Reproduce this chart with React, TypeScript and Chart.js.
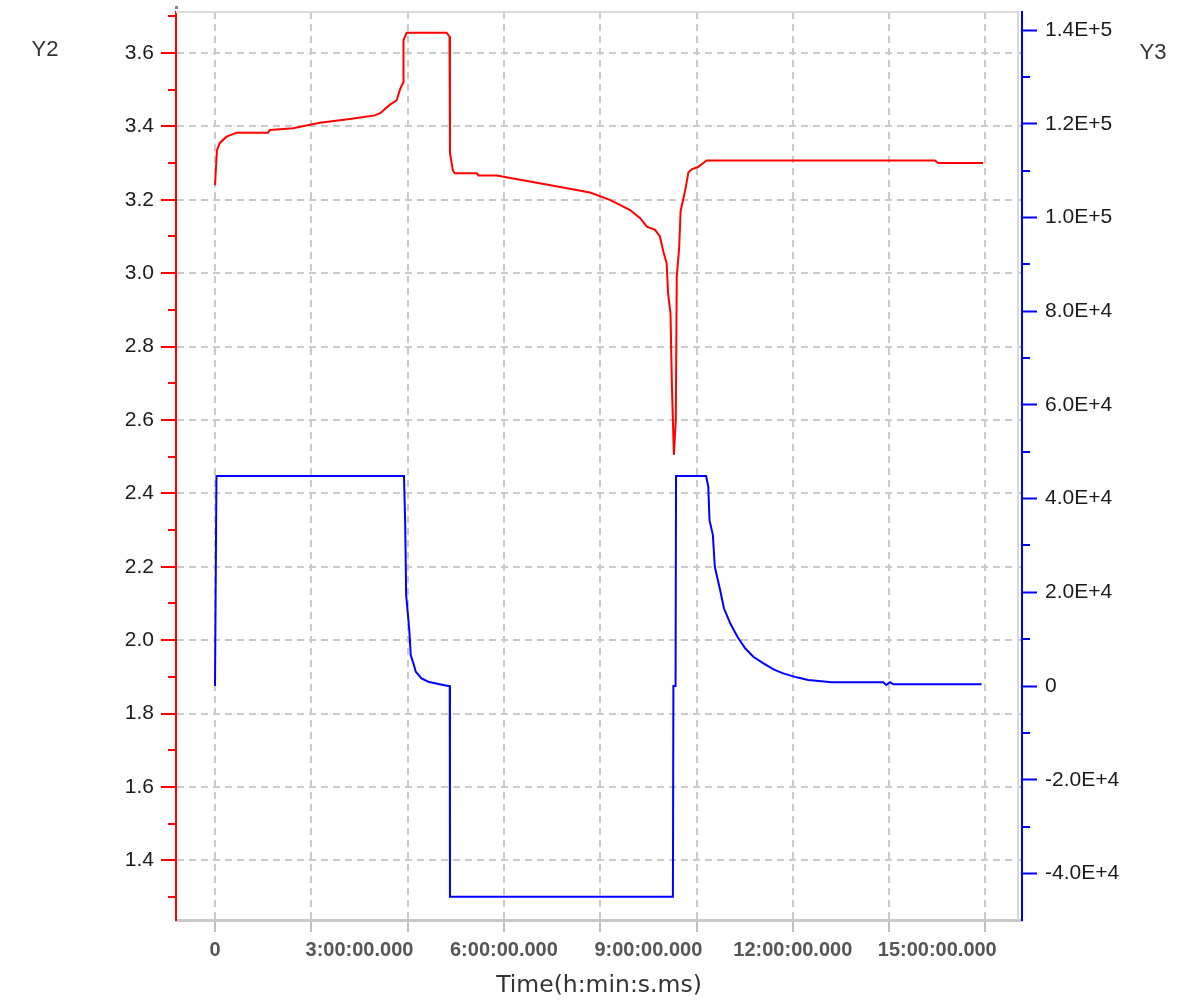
import React, { useEffect, useRef } from 'react';
import { Chart, registerables } from 'chart.js';

Chart.register(...registerables);

// ---- Data (hours, volts) ----
const redTimes = [
  0, 0.04, 0.1, 0.24, 0.45, 1.1, 1.14, 1.62, 2.18, 2.8, 3.32, 3.43, 3.64, 3.77, 3.84, 3.91, 3.915, 3.98,
  4.81, 4.87, 4.88, 4.94, 4.98, 5.44, 5.47, 5.85, 6.54, 7.17, 7.79, 8.2, 8.41, 8.62, 8.83, 8.97, 9.14,
  9.24, 9.31, 9.38, 9.41, 9.46, 9.49, 9.53, 9.57, 9.59, 9.64, 9.67, 9.73, 9.78, 9.83, 9.9, 10.04, 10.21,
  14.95, 15.02, 15.95,
];
const redValues = [
  3.24, 3.335, 3.355, 3.372, 3.383, 3.383, 3.39, 3.395, 3.41, 3.42, 3.43, 3.436, 3.46, 3.47, 3.5, 3.52, 3.635, 3.655,
  3.655, 3.645, 3.327, 3.28, 3.272, 3.272, 3.266, 3.266, 3.25, 3.235, 3.22, 3.2, 3.186, 3.172, 3.15, 3.127, 3.118,
  3.1, 3.06, 3.027, 2.945, 2.89, 2.69, 2.505, 2.6, 2.99, 3.07, 3.17, 3.205, 3.236, 3.274, 3.283, 3.29, 3.307,
  3.307, 3.3, 3.3,
];

// ---- Data (hours, Y3 units) ----
const blueTimes = [
  0, 0.03, 3.9, 3.925, 3.95, 3.97, 4.035, 4.065, 4.12, 4.17, 4.29, 4.43, 4.64, 4.845, 4.875, 4.88,
  9.51, 9.52, 9.565, 9.575, 10.2, 10.245, 10.27, 10.34, 10.38, 10.49, 10.57, 10.7, 10.85, 11.01, 11.18,
  11.39, 11.6, 11.8, 12.08, 12.32, 12.81, 13.88, 13.94, 14.02, 14.09, 15.92,
];
const blueValues = [
  0, 44800, 44800, 44800, 34700, 19400, 11950, 6600, 4840, 3050, 1640, 920, 430, 0, 0, -45000,
  -45000, 0, 0, 44800, 44800, 42500, 35400, 32200, 25460, 20500, 16580, 13380, 10520, 8045, 6250,
  4840, 3560, 2700, 1850, 1280, 790, 790, 213, 790, 360, 360,
];

// ---- Axes ----
const xRange = [-0.81, 16.76];
const xGridHours = [0, 2, 4, 6, 8, 10, 12, 14, 16];
const xLabelHours = [0, 3, 6, 9, 12, 15];
const xLabelTexts = ['0', '3:00:00.000', '6:00:00.000', '9:00:00.000', '12:00:00.000', '15:00:00.000'];
const xTitle = 'Time(h:min:s.ms)';

const y2Range = [1.2376, 3.7117];
const y2MajorTicks = [1.4, 1.6, 1.8, 2.0, 2.2, 2.4, 2.6, 2.8, 3.0, 3.2, 3.4, 3.6];
const y2MinorTicks = [1.3, 1.5, 1.7, 1.9, 2.1, 2.3, 2.5, 2.7, 2.9, 3.1, 3.3, 3.5, 3.7];
const y2Title = 'Y2';

const y3Range = [-49940, 143850];
const y3MajorTicks = [-40000, -20000, 0, 20000, 40000, 60000, 80000, 100000, 120000, 140000];
const y3MajorLabels = ['-4.0E+4', '-2.0E+4', '0', '2.0E+4', '4.0E+4', '6.0E+4', '8.0E+4', '1.0E+5', '1.2E+5', '1.4E+5'];
const y3MinorTicks = [-30000, -10000, 10000, 30000, 50000, 70000, 90000, 110000, 130000];
const y3Title = 'Y3';

const near = (a: number, b: number, eps = 1e-6) => Math.abs(a - b) < eps;
const inList = (v: number, list: number[]) => list.some((t) => near(t, v, 1e-4 * Math.max(1, Math.abs(t))));

const GRID = '#cacaca';
const DASH = [7, 5];

const extrasPlugin = {
  id: 'extras',
  afterDraw(chart: any) {
    const { ctx, chartArea } = chart;
    const y2 = chart.scales.y2;
    const y3 = chart.scales.y3;
    ctx.save();
    // frame top / right
    ctx.strokeStyle = '#dadada';
    ctx.lineWidth = 2;
    ctx.beginPath();
    ctx.moveTo(chartArea.left, chartArea.top);
    ctx.lineTo(chartArea.right - 4, chartArea.top);
    ctx.lineTo(chartArea.right - 4, chartArea.bottom);
    ctx.stroke();
    // minor ticks
    ctx.lineWidth = 2;
    ctx.strokeStyle = '#ff0000';
    ctx.beginPath();
    y2MinorTicks.forEach((v) => {
      const py = Math.round(y2.getPixelForValue(v));
      ctx.moveTo(y2.right - 8, py);
      ctx.lineTo(y2.right, py);
    });
    ctx.stroke();
    ctx.strokeStyle = '#0000ff';
    ctx.beginPath();
    y3MinorTicks.forEach((v) => {
      const py = Math.round(y3.getPixelForValue(v));
      ctx.moveTo(y3.left, py);
      ctx.lineTo(y3.left + 8, py);
    });
    ctx.stroke();
    // small marker above left axis
    ctx.fillStyle = '#888888';
    ctx.fillRect(y2.right - 1, chartArea.top - 6, 3, 3);
    // axis titles
    ctx.fillStyle = '#333333';
    ctx.font = '22px "Liberation Sans", Arial, sans-serif';
    ctx.textAlign = 'center';
    ctx.textBaseline = 'middle';
    ctx.fillText(y2Title, 45, 50);
    ctx.fillText(y3Title, 1153, 53);
    ctx.restore();
  },
};

export default function App() {
  const canvasRef = useRef<HTMLCanvasElement | null>(null);

  useEffect(() => {
    const canvas = canvasRef.current;
    if (!canvas) return;
    const chart = new Chart(canvas, {
      type: 'line',
      data: {
        datasets: [
          {
            label: 'Y2',
            data: redTimes.map((t, i) => ({ x: t, y: redValues[i] })),
            borderColor: '#ff0000',
            borderWidth: 2,
            pointRadius: 0,
            tension: 0,
            yAxisID: 'y2',
          },
          {
            label: 'Y3',
            data: blueTimes.map((t, i) => ({ x: t, y: blueValues[i] })),
            borderColor: '#0000ff',
            borderWidth: 2,
            pointRadius: 0,
            tension: 0,
            yAxisID: 'y3',
          },
        ],
      },
      options: {
        animation: false,
        responsive: true,
        maintainAspectRatio: false,
        layout: { padding: { top: 12, left: 0, right: 0, bottom: 0 } },
        plugins: {
          legend: { display: false },
          tooltip: { enabled: false },
        },
        scales: {
          x: {
            type: 'linear',
            position: 'bottom',
            min: xRange[0],
            max: xRange[1],
            afterBuildTicks: (scale: any) => {
              const vals = Array.from(new Set([...xGridHours, ...xLabelHours])).sort((a, b) => a - b);
              scale.ticks = vals.map((v) => ({ value: v }));
            },
            afterFit: (scale: any) => {
              scale.height = 82;
              scale.paddingLeft = 0;
              scale.paddingRight = 0;
            },
            grid: {
              color: (c: any) => (c.tick && inList(c.tick.value, xGridHours) ? GRID : 'rgba(0,0,0,0)'),
              tickColor: (c: any) => (c.tick && inList(c.tick.value, xGridHours) ? '#c0c0c0' : 'rgba(0,0,0,0)'),
              lineWidth: 2,
              tickWidth: 2,
              tickLength: 12,
              tickBorderDash: [],
            },
            border: { display: true, color: '#c8c8c8', width: 3, dash: DASH },
            ticks: {
              autoSkip: false,
              maxRotation: 0,
              padding: 6,
              color: '#555555',
              font: { family: '"Liberation Sans", Arial, sans-serif', size: 20, weight: 'bold' },
              callback: (value: any) => {
                const idx = xLabelHours.findIndex((h) => near(h, Number(value), 1e-4));
                return idx >= 0 ? xLabelTexts[idx] : '';
              },
            },
            title: {
              display: true,
              text: xTitle,
              color: '#333333',
              font: { family: '"DejaVu Sans", sans-serif', size: 23.5, weight: 'normal' },
              padding: { top: 0, bottom: 2 },
            },
          },
          y2: {
            type: 'linear',
            position: 'left',
            min: y2Range[0],
            max: y2Range[1],
            afterBuildTicks: (scale: any) => {
              scale.ticks = y2MajorTicks.map((v) => ({ value: v }));
            },
            afterFit: (scale: any) => {
              scale.width = 176;
              scale.paddingTop = 0;
              scale.paddingBottom = 0;
            },
            grid: {
              color: GRID,
              lineWidth: 2,
              tickColor: '#ff0000',
              tickWidth: 2,
              tickLength: 15,
              tickBorderDash: [],
            },
            border: { display: true, color: '#ff0000', width: 2, dash: DASH },
            ticks: {
              padding: 7,
              color: '#1a1a1a',
              font: { family: '"Liberation Sans", Arial, sans-serif', size: 21 },
              callback: (value: any) => Number(value).toFixed(1),
            },
          },
          y3: {
            type: 'linear',
            position: 'right',
            min: y3Range[0],
            max: y3Range[1],
            afterBuildTicks: (scale: any) => {
              scale.ticks = y3MajorTicks.map((v) => ({ value: v }));
            },
            afterFit: (scale: any) => {
              scale.width = 169;
              scale.paddingTop = 0;
              scale.paddingBottom = 0;
            },
            grid: {
              drawOnChartArea: false,
              tickColor: '#0000ff',
              tickWidth: 2,
              tickLength: 15,
              tickBorderDash: [],
            },
            border: { display: true, color: '#0000ff', width: 2 },
            ticks: {
              padding: 8,
              color: '#1a1a1a',
              font: { family: '"Liberation Sans", Arial, sans-serif', size: 21 },
              callback: (value: any) => {
                const idx = y3MajorTicks.findIndex((t) => near(t, Number(value), 1));
                return idx >= 0 ? y3MajorLabels[idx] : '';
              },
            },
          },
        },
      } as any,
      plugins: [extrasPlugin],
    });
    return () => chart.destroy();
  }, []);

  return (
    <div style={{ position: 'fixed', left: 0, top: 0, width: 1191, height: 1002, background: '#ffffff' }}>
      <canvas ref={canvasRef} />
    </div>
  );
}
